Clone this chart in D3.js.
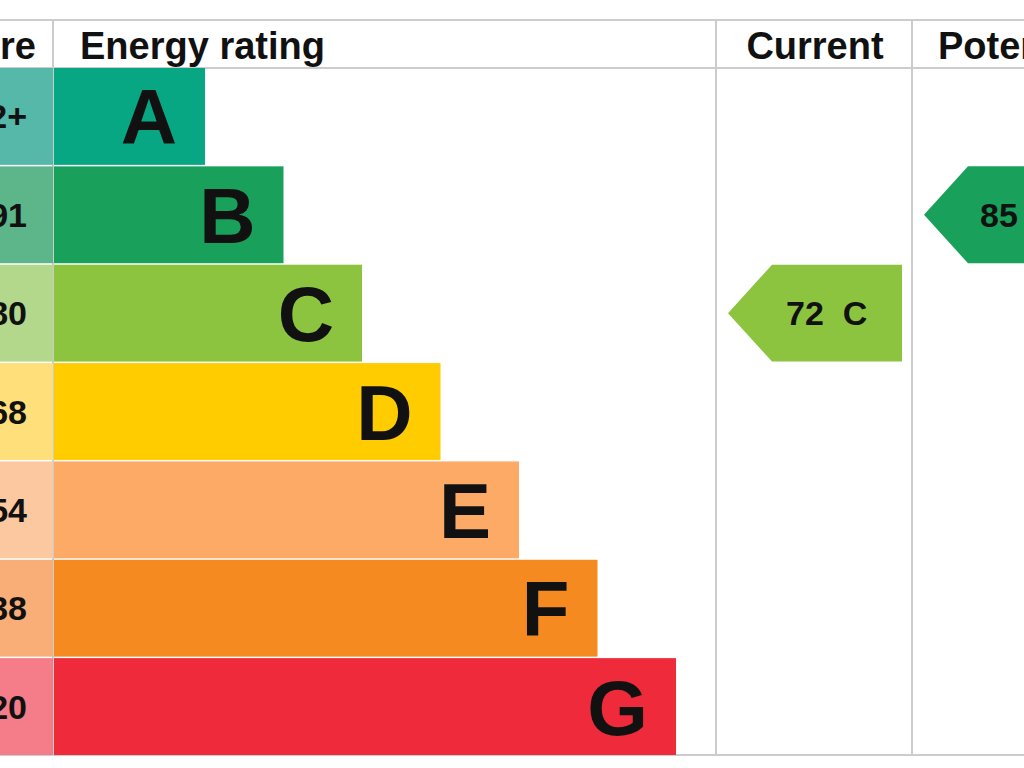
<!DOCTYPE html>
<html><head><meta charset="utf-8">
<script src="https://cdn.jsdelivr.net/npm/d3@7"></script>
<style>body{margin:0;background:#fff}svg{display:block}</style>
</head><body>
<svg id="chart" width="1024" height="768"></svg>
<script>
var ratings = ["A", "B", "C", "D", "E", "F", "G"];
var scoreBands = ["92+", "81-91", "69-80", "55-68", "39-54", "21-38", "1-20"];
var barColors = ["#08a783", "#19a05a", "#8cc43f", "#ffcc00", "#fcaa65", "#f58a20", "#ee2a3b"];
var scoreColors = ["#55b8a8", "#5db58a", "#b3d88b", "#ffdf7a", "#fcc8a0", "#f9ae78", "#f47d89"];
var headers = ["Score", "Energy rating", "Current", "Potential"];
var currentScore = 72, currentRating = "C";
var potentialScore = 85, potentialRating = "B";

var svg = d3.select("#chart");
var font = "'Liberation Sans', Arial, sans-serif";

var y = d3.scaleBand().domain(ratings).range([68, 755]).paddingInner(0.015);
var barEnd = d3.scaleLinear().domain([0, 6]).range([205, 676]);
var colLeft = 54;

// grid lines
[20, 68, 755].forEach(function(v) {
	svg.append("line").attr("x1", 0).attr("x2", 1024).attr("y1", v).attr("y2", v).attr("stroke", "#ccc").attr("stroke-width", 2);
});
[53, 716, 912].forEach(function(x) {
	svg.append("line").attr("x1", x).attr("x2", x).attr("y1", 20).attr("y2", 755).attr("stroke", "#ccc").attr("stroke-width", 2);
});

var headerPos = [[36, "end"], [80, "start"], [815, "middle"], [938, "start"]];
headers.forEach(function(h, i) {
	svg.append("text").attr("x", headerPos[i][0]).attr("y", 59).attr("text-anchor", headerPos[i][1])
		.attr("font-family", font).attr("font-weight", "bold").attr("font-size", 38).attr("fill", "#111").text(h);
});

// score column
svg.selectAll(".score").data(ratings).enter().append("rect")
	.attr("x", -100).attr("y", function(d) { return y(d); })
	.attr("width", 153).attr("height", y.bandwidth())
	.attr("fill", function(d, i) { return scoreColors[i]; });
svg.selectAll(".scoreText").data(scoreBands).enter().append("text")
	.attr("x", 27).attr("y", function(d, i) { return y(ratings[i]) + y.bandwidth() / 2 + 12; })
	.attr("text-anchor", "end").attr("font-family", font).attr("font-weight", "bold").attr("font-size", 34)
	.attr("fill", "#111").text(function(d) { return d; });

// bars
svg.selectAll(".bar").data(ratings).enter().append("rect")
	.attr("x", colLeft).attr("y", function(d) { return y(d); })
	.attr("width", function(d, i) { return barEnd(i) - colLeft; }).attr("height", y.bandwidth())
	.attr("fill", function(d, i) { return barColors[i]; });
svg.selectAll(".letter").data(ratings).enter().append("text")
	.attr("x", function(d, i) { return barEnd(i) - 28; })
	.attr("y", function(d) { return y(d) + y.bandwidth() / 2 + 28; })
	.attr("text-anchor", "end").attr("font-family", font).attr("font-weight", "bold").attr("font-size", 78)
	.attr("fill", "#111").text(function(d) { return d; });

function arrow(tip, right, rating, score, textX) {
	var top = y(rating), h = y.bandwidth(), mid = top + h / 2;
	var pts = [[tip, mid], [tip + 44, top], [right, top], [right, top + h], [tip + 44, top + h]];
	svg.append("polygon").attr("points", pts.map(function(p) { return p.join(","); }).join(" "))
		.attr("fill", barColors[ratings.indexOf(rating)]);
	svg.append("text").attr("x", textX).attr("y", mid + 12).attr("font-family", font)
		.attr("font-weight", "bold").attr("font-size", 34).attr("fill", "#111")
		.attr("xml:space", "preserve").text(score + "  " + rating);
}
arrow(728, 902, currentRating, currentScore, 786);
arrow(924, 1100, potentialRating, potentialScore, 980);
</script>
</body></html>
